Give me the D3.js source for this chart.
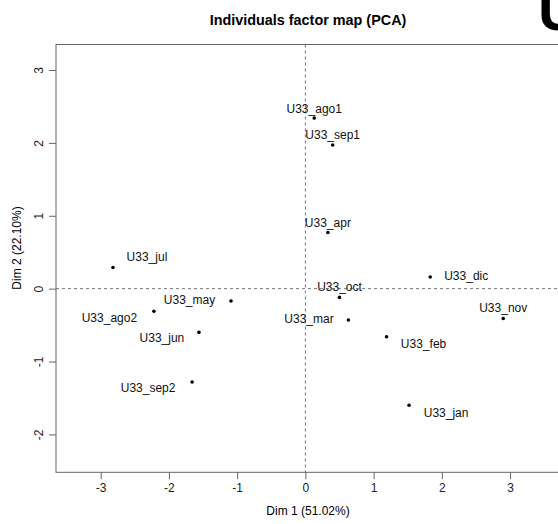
<!DOCTYPE html>
<head>
<meta charset="utf-8">
<title>Individuals factor map (PCA)</title>
<style>
    body { margin: 0; background: white; }
    svg { font-family: "Liberation Sans", Arial, sans-serif; }
    .axis text { font-size: 12px; fill: #222; }
    .axis path { display: none; }
    .axis line { stroke: #666; }
    .ind-label { font-size: 12px; fill: #111; text-anchor: middle; }
    .zero { stroke: #777; stroke-dasharray: 3,3; fill: none; }
</style>
</head>
<body>
<svg></svg>
<script src="https://cdn.jsdelivr.net/npm/d3@7"></script>
<script>

    // individuals (Dim 1, Dim 2)
    var names = ["U33_ago1", "U33_sep1", "U33_apr", "U33_jul", "U33_may", "U33_ago2", "U33_jun",
        "U33_sep2", "U33_dic", "U33_oct", "U33_mar", "U33_nov", "U33_feb", "U33_jan"];
    var dim1 = [0.13, 0.40, 0.33, -2.82, -1.09, -2.22, -1.56, -1.66, 1.83, 0.50, 0.63, 2.90, 1.19, 1.52];
    var dim2 = [2.34, 1.97, 0.77, 0.29, -0.17, -0.31, -0.60, -1.28, 0.16, -0.12, -0.43, -0.41, -0.66, -1.60];
    var xTicks = [-3, -2, -1, 0, 1, 2, 3];
    var yTicks = [-2, -1, 0, 1, 2, 3];

    // label placement (pixel offset of text centre / baseline from the point)
    var labelDx = [0, 0, 0, 34, -41.5, -44.5, -37, -44, 36, 0, -39.3, 0, 37, 37];
    var labelDy = [-5.6, -5.7, -6, -6.6, 3.3, 11, 10, 10, 3.4, -6.7, 3, -6.4, 11.6, 11.6];

    var data = names.map(function (n, i) {
        return {name: n, x: dim1[i], y: dim2[i], dx: labelDx[i], dy: labelDy[i]};
    });

    var svg = d3.select("svg")
        .attr("width", 558)
        .attr("height", 524);

    var plotL = 56, plotR = 566, plotT = 44.5, plotB = 472.3;

    var x = d3.scaleLinear().domain([-3.655, 3.82]).range([plotL, plotR]);
    var y = d3.scaleLinear().domain([-2.52, 3.35]).range([plotB, plotT]);

    var fmt = function (d) { return String(d); };

    // big cut-off letter in the top-right corner
    svg.append("text")
        .attr("x", 538)
        .attr("y", 30)
        .style("font-size", "58px")
        .style("font-weight", "bold")
        .style("fill", "#000")
        .text("U");

    // zero lines
    svg.append("line").attr("class", "zero")
        .attr("x1", x(0)).attr("x2", x(0)).attr("y1", plotT).attr("y2", plotB);
    svg.append("line").attr("class", "zero")
        .attr("x1", plotL).attr("x2", plotR).attr("y1", y(0)).attr("y2", y(0));

    // box
    svg.append("rect")
        .attr("x", plotL).attr("y", plotT)
        .attr("width", plotR - plotL).attr("height", plotB - plotT)
        .attr("fill", "none").attr("stroke", "#666");

    svg.append("g")
        .attr("class", "axis")
        .attr("transform", "translate(0," + plotB + ")")
        .call(d3.axisBottom(x).tickValues(xTicks).tickSize(7).tickPadding(4).tickFormat(fmt));

    var yAxis = svg.append("g")
        .attr("class", "axis")
        .attr("transform", "translate(" + plotL + ",0)")
        .call(d3.axisLeft(y).tickValues(yTicks).tickSize(7).tickFormat(fmt));

    yAxis.selectAll(".tick text")
        .attr("x", null).attr("dy", null)
        .attr("text-anchor", "middle")
        .attr("transform", "translate(-13.5,0) rotate(-90)");

    // points
    svg.selectAll(".dot")
        .data(data)
        .enter().append("circle")
        .attr("class", "dot")
        .attr("cx", function (d) { return x(d.x); })
        .attr("cy", function (d) { return y(d.y); })
        .attr("r", 1.8)
        .attr("fill", "#000");

    svg.selectAll(".ind-label")
        .data(data)
        .enter().append("text")
        .attr("class", "ind-label")
        .attr("x", function (d) { return x(d.x) + d.dx; })
        .attr("y", function (d) { return y(d.y) + d.dy; })
        .text(function (d) { return d.name; });

    // titles
    svg.append("text")
        .attr("x", 308).attr("y", 25)
        .attr("text-anchor", "middle")
        .style("font-size", "14.4px")
        .style("font-weight", "bold")
        .text("Individuals factor map (PCA)");

    svg.append("text")
        .attr("x", 308).attr("y", 515)
        .attr("text-anchor", "middle")
        .style("font-size", "12px")
        .text("Dim 1 (51.02%)");

    svg.append("text")
        .attr("transform", "translate(21,248) rotate(-90)")
        .attr("text-anchor", "middle")
        .style("font-size", "12px")
        .text("Dim 2 (22.10%)");

</script>
</body>
